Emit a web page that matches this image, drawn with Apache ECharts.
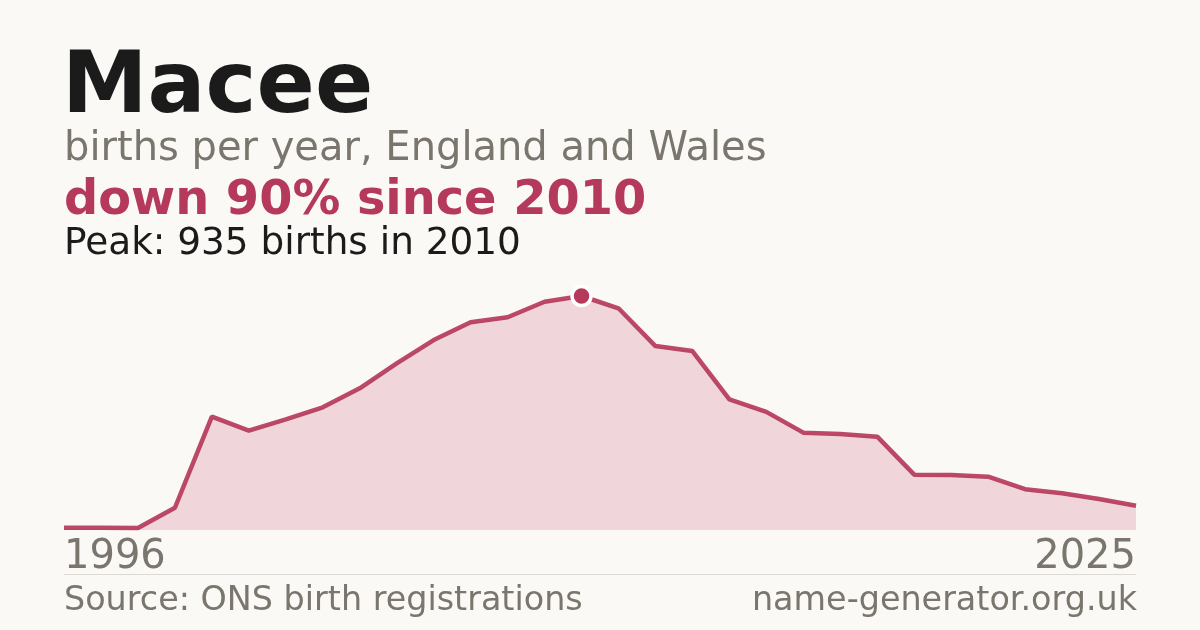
<!DOCTYPE html>
<html>
<head>
<meta charset="utf-8">
<script src="https://cdn.jsdelivr.net/npm/echarts@6/dist/echarts.min.js"></script>
<style>
  html, body { margin: 0; padding: 0; background: #faf9f5; }
  #chart { width: 1200px; height: 630px; }
</style>
</head>
<body>
<div id="chart"></div>
<script>
// births per year
var years = ['1996','1997','1998','1999','2000','2001','2002','2003','2004','2005',
  '2006','2007','2008','2009','2010','2011','2012','2013','2014','2015',
  '2016','2017','2018','2019','2020','2021','2022','2023','2024','2025'];
var births = [9, 9, 8, 89, 453, 397, 442, 490, 566, 666,
  759, 830, 850, 912, 935, 886, 735, 715, 522, 472,
  389, 384, 373, 221, 220, 213, 163, 147, 124, 97];
var peakYear = '2010';
var peakValue = 935;

var nameText = 'Macee';
var subText = 'births per year, England and Wales';
var changeText = 'down 90% since 2010';
var peakText = 'Peak: 935 births in 2010';
var sourceText = 'Source: ONS birth registrations';
var siteText = 'name-generator.org.uk';

var FONT = '"DejaVu Sans", sans-serif';
var crimson = '#b5395a';
var grey = '#7a756d';

var myChart = echarts.init(document.getElementById('chart'), null, { renderer: 'canvas' });

function txt(size, weight, color) {
  return { fontFamily: FONT, fontSize: size, fontWeight: weight, color: color };
}

var option = {
  backgroundColor: '#faf9f5',
  animation: false,
  title: [
    { text: nameText, left: 62, top: 47, padding: 0, textStyle: txt(86, 'bold', '#1b1b1b') },
    { text: subText, left: 64, top: 130, padding: 0, textStyle: txt(40, 'normal', grey) },
    { text: changeText, left: 64, top: 178, padding: 0, textStyle: txt(47.8, 'bold', crimson) },
    { text: peakText, left: 64, top: 226, padding: 0, textStyle: txt(37.4, 'normal', '#1b1b1b') },
    { text: sourceText, left: 64, top: 585, padding: 0, textStyle: txt(33.4, 'normal', grey) },
    { text: siteText, right: 63, top: 585, padding: 0, textStyle: txt(33.4, 'normal', grey) }
  ],
  grid: { left: 64, right: 64, top: 296, bottom: 100, containLabel: false },
  xAxis: {
    type: 'category',
    data: years,
    boundaryGap: false,
    axisLine: { show: false },
    axisTick: { show: false },
    splitLine: { show: false },
    axisLabel: {
      fontFamily: FONT,
      fontSize: 40,
      color: grey,
      margin: 8,
      alignMinLabel: 'left',
      alignMaxLabel: 'right',
      interval: function (index) { return index === 0 || index === years.length - 1; }
    }
  },
  yAxis: {
    type: 'value',
    min: 0,
    max: peakValue,
    show: false,
    splitLine: { show: false }
  },
  series: [{
    type: 'line',
    data: births,
    symbol: 'none',
    lineStyle: { color: crimson, width: 4.5, opacity: 0.92 },
    areaStyle: { color: '#f0d5da', opacity: 1 },
    markPoint: {
      symbol: 'circle',
      symbolSize: 19,
      itemStyle: { color: crimson, borderColor: '#ffffff', borderWidth: 3.5 },
      label: { show: false },
      data: [{ coord: [peakYear, peakValue] }]
    }
  }],
  graphic: [{
    type: 'line',
    shape: { x1: 64, y1: 574.5, x2: 1136, y2: 574.5 },
    style: { stroke: '#dcd9d3', lineWidth: 1 }
  }]
};

myChart.setOption(option);
</script>
</body>
</html>
